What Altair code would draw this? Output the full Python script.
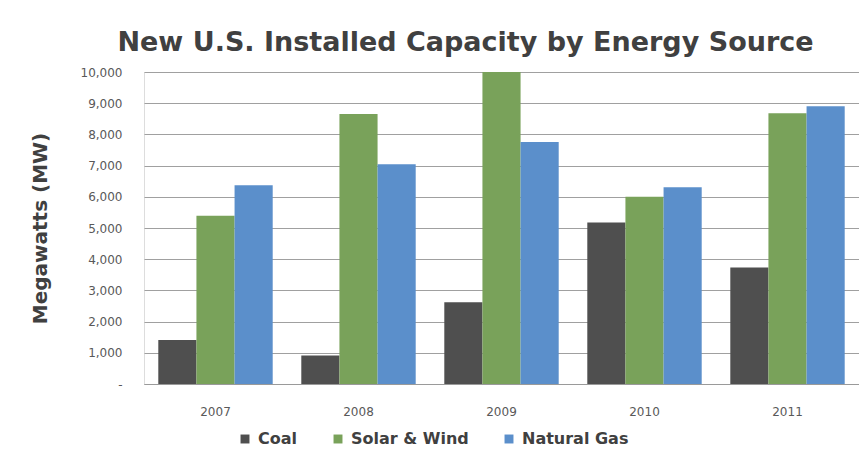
import altair as alt
import pandas as pd

years = ["2007", "2008", "2009", "2010", "2011"]
sources = ["Coal", "Solar & Wind", "Natural Gas"]
coal = [1410, 910, 2620, 5180, 3730]
solar_wind = [5390, 8650, 10000, 6000, 8680]
natural_gas = [6370, 7040, 7760, 6310, 8900]
colors = ["#4f4f4f", "#79a25a", "#5b8fcb"]

rows = []
for i, y in enumerate(years):
    for s, vals in zip(sources, [coal, solar_wind, natural_gas]):
        rows.append({"Year": y, "Source": s, "MW": vals[i]})
df = pd.DataFrame(rows)

FONT = "DejaVu Sans"

chart = alt.Chart(df).mark_bar().encode(
    x=alt.X("Year:N", sort=years,
            scale=alt.Scale(paddingInner=0.2, paddingOuter=0.1),
            axis=alt.Axis(title=None, labelAngle=0, ticks=False, labelPadding=22,
                          labelFontSize=12, labelColor="#595959", labelFont=FONT,
                          domainColor="#9a9a9a", grid=False)),
    xOffset=alt.XOffset("Source:N", sort=sources),
    y=alt.Y("MW:Q", scale=alt.Scale(domain=[0, 10000]),
            axis=alt.Axis(title="Megawatts (MW)", values=list(range(0, 10001, 1000)),
                          labelExpr="datum.value == 0 ? '-' : format(datum.value, ',')",
                          ticks=False, domain=False, labelPadding=22,
                          labelFontSize=12, labelColor="#595959", labelFont=FONT,
                          titleFont=FONT, titleFontSize=20, titleFontWeight="bold",
                          titleColor="#404040", titlePadding=30,
                          gridColor="#a0a0a0", gridWidth=1)),
    color=alt.Color("Source:N", sort=sources,
                    scale=alt.Scale(domain=sources, range=colors),
                    legend=alt.Legend(title=None, orient="none", direction="horizontal",
                                      legendX=93, legendY=359, symbolType="square",
                                      symbolSize=80, symbolStrokeWidth=0,
                                      labelFont=FONT, labelFontSize=16,
                                      labelColor="#404040", labelFontWeight="bold",
                                      columnPadding=32, symbolOffset=0, labelOffset=5)),
).properties(
    width=715, height=312,
    title=alt.Title("New U.S. Installed Capacity by Energy Source",
                    font=FONT, fontSize=27, fontWeight="bold", color="#404040",
                    anchor="middle", dx=-36, offset=9),
    autosize=alt.AutoSizeParams(type="none"),
    padding={"left": 136, "top": 64, "right": 0, "bottom": 69},
).configure_view(stroke=None).configure(background="white")

chart.save("out.html", embed_options={"renderer": "svg", "actions": False})
